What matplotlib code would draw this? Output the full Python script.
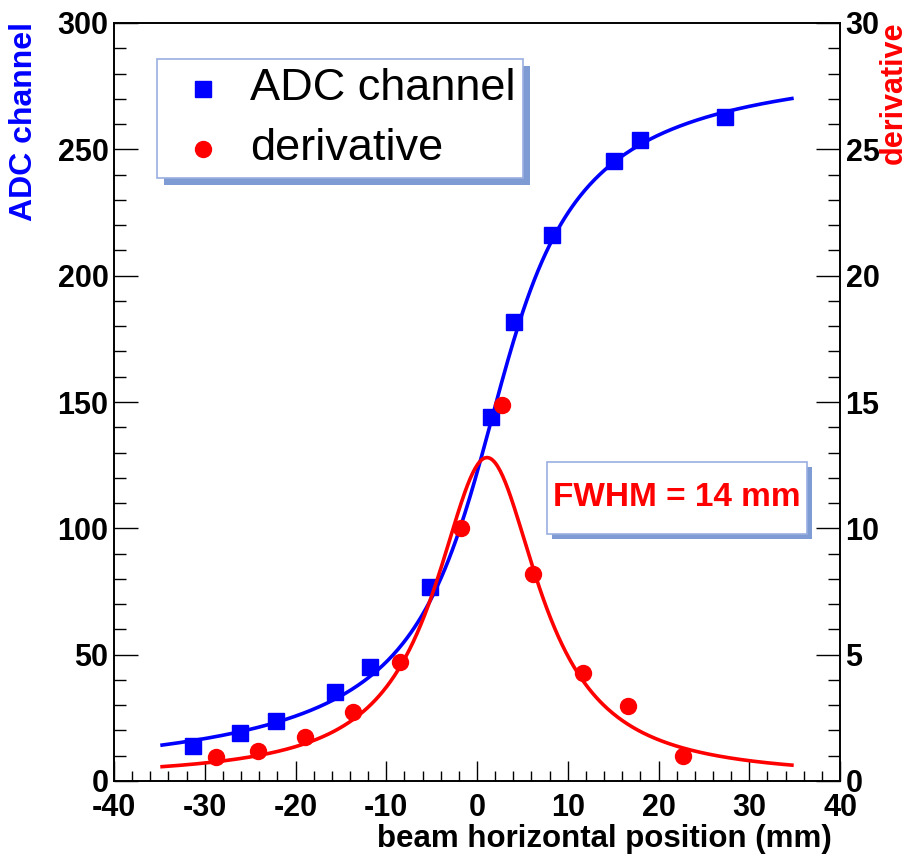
import numpy as np
import matplotlib
matplotlib.use("Agg")
import matplotlib.pyplot as plt
from matplotlib.patches import Rectangle
from matplotlib.lines import Line2D
from matplotlib.ticker import MultipleLocator

plt.rcParams['font.family'] = ['Liberation Sans', 'DejaVu Sans']
plt.rcParams['font.weight'] = 'bold'
plt.rcParams['axes.unicode_minus'] = False

# measured ADC response vs beam position (mm)
adc_pos = [-31.3, -26.1, -22.1, -15.6, -11.8, -5.2, 1.5, 4.1, 8.3, 15.1, 18.0, 27.3]
adc_val = [13.9, 19.1, 23.7, 35.2, 45.2, 76.9, 144.2, 181.5, 216.1, 245.4, 253.7, 262.9]

# finite-difference derivative at midpoints
der_pos = [-28.8, -24.1, -18.9, -13.7, -8.5, -1.8, 2.8, 6.2, 11.7, 16.6, 22.7]
der_val = [0.96, 1.19, 1.73, 2.72, 4.72, 10.0, 14.9, 8.18, 4.26, 2.97, 0.99]

# fit results: arctan step for the ADC, Lorentzian for its derivative
FWHM = 14.0
ADC_CENTER = 1.6
ADC_OFFSET = 143.0
ADC_STEP = 93.3
DER_CENTER = 1.1
DER_PEAK = 12.7
DER_BASE = 0.1
FIT_RANGE = (-34.7, 34.7)

W, H = 909, 864


def fx(px):
    return px / W


def fy(py):
    return 1 - py / H


def box(x0, y0, x1, y1, shift):
    # white pave with a flat blue drop shadow, pixel coords
    fig.add_artist(Rectangle((fx(x0 + shift), fy(y1 + shift)), fx(x1) - fx(x0), fy(y0) - fy(y1),
                             transform=fig.transFigure, facecolor='#7f9bd3', edgecolor='none'))
    fig.add_artist(Rectangle((fx(x0), fy(y1)), fx(x1) - fx(x0), fy(y0) - fy(y1),
                             transform=fig.transFigure, facecolor='white', edgecolor='#9aaee0', lw=1.2))


fig = plt.figure(figsize=(W / 100, H / 100), dpi=100)
ax = fig.add_axes([fx(114), fy(781), fx(840) - fx(114), fy(23) - fy(781)])
ax2 = ax.twinx()

half = FWHM / 2
xf = np.linspace(FIT_RANGE[0], FIT_RANGE[1], 500)
adc_fit = ADC_OFFSET + ADC_STEP * np.arctan((xf - ADC_CENTER) / half)
der_fit = DER_BASE + DER_PEAK / (1 + ((xf - DER_CENTER) / half) ** 2)

ax.plot(xf, adc_fit, color='#0000ff', lw=2.6)
ax.plot(adc_pos, adc_val, 's', color='#0000ff', ms=11, mec='#0000ff')
ax2.plot(xf, der_fit, color='#ff0000', lw=2.6)
ax2.plot(der_pos, der_val, 'o', color='#ff0000', ms=11.5, mec='#ff0000')

ax.set_xlim(-40, 40)
ax.set_ylim(0, 300)
ax2.set_ylim(0, 30)

ax.xaxis.set_major_locator(MultipleLocator(10))
ax.xaxis.set_minor_locator(MultipleLocator(2))
ax.yaxis.set_major_locator(MultipleLocator(50))
ax.yaxis.set_minor_locator(MultipleLocator(10))
ax2.yaxis.set_major_locator(MultipleLocator(5))
ax2.yaxis.set_minor_locator(MultipleLocator(1))

ax.tick_params(which='both', direction='in', top=False, right=False, labelsize=22, width=1)
ax.tick_params(axis='y', which='major', length=17, pad=4)
ax.tick_params(axis='y', which='minor', length=8.6)
ax.tick_params(axis='x', which='major', length=14.5, pad=9)
ax.tick_params(axis='x', which='minor', length=7.2)
ax2.tick_params(which='both', direction='in', labelsize=22, width=1, pad=4)
ax2.tick_params(which='major', length=17)
ax2.tick_params(which='minor', length=8.6)

for a in (ax, ax2):
    for s in a.spines.values():
        s.set_linewidth(1.2)

# axis titles
fig.text(fx(24), fy(22), 'ADC channel', rotation=90, ha='center', va='top',
         color='#0000ff', fontsize=23)
fig.text(fx(894), fy(22), 'derivative', rotation=90, ha='center', va='top',
         color='#ff0000', fontsize=22)
fig.text(fx(832), fy(847), 'beam horizontal position (mm)', ha='right', va='baseline',
         fontsize=22.5)

# legend
box(157, 59, 523, 178, 7)
fig.add_artist(Line2D([fx(203)], [fy(89)], marker='s', ms=11, color='#0000ff',
                      transform=fig.transFigure))
fig.add_artist(Line2D([fx(203)], [fy(149)], marker='o', ms=11.5, color='#ff0000',
                      transform=fig.transFigure))
fig.text(fx(250), fy(88), 'ADC channel', va='center', fontsize=32.5, fontweight='normal')
fig.text(fx(250), fy(148), 'derivative', va='center', fontsize=32.5, fontweight='normal')

# width of the derivative peak
box(547, 462, 807, 534, 5)
fig.text(fx(677), fy(498), f'FWHM = {FWHM:g} mm', ha='center', va='center',
         color='#ff0000', fontsize=24)

fig.savefig('out.png', dpi=100)
